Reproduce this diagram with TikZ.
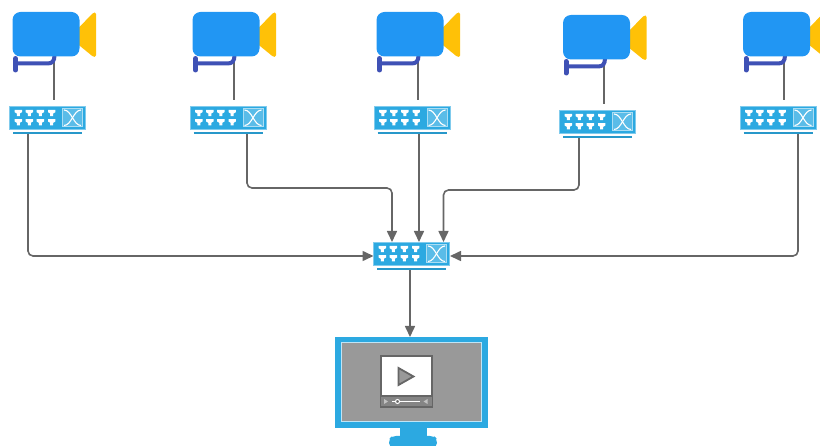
\documentclass[tikz,border=0pt]{standalone}
\usetikzlibrary{arrows.meta}
\definecolor{swblue}{HTML}{2CA9E1}
\definecolor{camblue}{HTML}{2196F3}
\definecolor{camgold}{HTML}{FFC107}
\definecolor{camarm}{HTML}{3F51B5}
\definecolor{wire}{HTML}{666666}
\definecolor{screen}{HTML}{999999}
\tikzset{
  anchorbox/.style={inner sep=0pt,outer sep=0pt,minimum width=#1},
  conn/.style={draw=wire,line width=1.6pt,rounded corners=5pt,-{Triangle[length=11pt,width=10pt]}},
  feed/.style={draw=wire,line width=1.6pt},
  swbody/.style={fill=swblue,draw=swblue!60!white,line width=.5pt},
  funnel/.pic={\fill[white] (-3.7,-3.1) -- (3.7,-3.1) -- (3.7,-.8) -- (1.5,.5) -- (1.5,3.1) -- (-1.5,3.1) -- (-1.5,.5) -- (-3.7,-.8) -- cycle;},
  netswitch/.pic={
    \path[swbody] (0,0) rectangle (76,23);
    \draw[swblue!90!black,line width=2.2pt] (3.5,27) -- (72.5,27);
    \foreach \c in {8.8,19.8,30.8,42.2}\foreach \r in {7,16.3}{\pic at (\c,\r) {funnel};}
    \draw[white!60!swblue,fill=white!22!swblue,line width=1pt] (53,2.5) rectangle (73,21);
    \draw[white,line width=1.1pt] (54.5,4) .. controls (62,4) and (64,19.5) .. (71.5,19.5);
    \draw[white,line width=1.1pt] (54.5,19.5) .. controls (62,19.5) and (64,4) .. (71.5,4);
  },
  camera/.pic={
    \draw[camarm,line width=5pt,line cap=round] (3,46.5) -- (3,58);
    \draw[camarm,line width=4pt] (3,51.5) -- (35,51.5) .. controls (40,51.5) and (42,49) .. (42,43);
    \fill[camgold,rounded corners=1.5pt] (65,17) -- (81,0.5) -- (83.5,0.5) -- (83.5,45) -- (81,45) -- (65,32) -- cycle;
    \fill[camblue,rounded corners=8pt] (0,0) rectangle (67,44.5);
  },
}
\begin{document}
\begin{tikzpicture}[x=1pt,y=-1pt]
\useasboundingbox (0,0) rectangle (820,446);
% anchors
\node[anchorbox=67pt,minimum height=44.5pt] (c1) at (46,34.25) {};
\node[anchorbox=67pt,minimum height=44.5pt] (c2) at (226,34.25) {};
\node[anchorbox=67pt,minimum height=44.5pt] (c3) at (410,34.25) {};
\node[anchorbox=67pt,minimum height=44.5pt] (c4) at (596.5,37.25) {};
\node[anchorbox=67pt,minimum height=44.5pt] (c5) at (776.5,34.25) {};
\node[anchorbox=76pt,minimum height=28pt] (s1) at (47.5,120) {};
\node[anchorbox=76pt,minimum height=28pt] (s2) at (228,120) {};
\node[anchorbox=76pt,minimum height=28pt] (s3) at (412,120) {};
\node[anchorbox=76pt,minimum height=28pt] (s4) at (597.5,124) {};
\node[anchorbox=76pt,minimum height=28pt] (s5) at (778,120) {};
\node[anchorbox=76pt,minimum height=28pt] (hub) at (411.5,256) {};
\node[anchorbox=153pt,minimum height=91pt] (mon) at (411.5,382.5) {};
\coordinate (e1) at (54,100);
\coordinate (e2) at (234,100);
\coordinate (e3) at (418,100);
\coordinate (e4) at (604,104);
\coordinate (e5) at (784,100);
% camera feeds
\draw[feed] ([xshift=41.5pt]c1.south west) -- (e1);
\draw[feed] ([xshift=41.5pt]c2.south west) -- (e2);
\draw[feed] ([xshift=41.5pt]c3.south west) -- (e3);
\draw[feed] ([xshift=41pt]c4.south west) -- (e4);
\draw[feed] ([xshift=41pt]c5.south west) -- (e5);
% connectors
\draw[conn] ([xshift=18.5pt]s1.south west) |- (hub.west);
\draw[conn] ([xshift=20pt]s5.south) |- ([xshift=.5pt]hub.east);
\draw[conn] ([xshift=19pt]s2.south) -- ++(0,54) -| ([xshift=-19.5pt]hub.north);
\draw[conn] ([xshift=7pt]s3.south) -- ([xshift=7.5pt]hub.north);
\draw[conn] ([xshift=-18.5pt]s4.south) -- ++(0,52) -| ([xshift=32pt]hub.north);
\draw[conn] ([xshift=-1.5pt]hub.south) -- ([xshift=-1.5pt]mon.north);
% cameras
\pic at (12.5,12) {camera};
\pic at (192.5,12) {camera};
\pic at (376.5,12) {camera};
\pic at (563,15) {camera};
\pic at (743,12) {camera};
% switches
\pic at (9.5,106) {netswitch};
\pic at (190,106) {netswitch};
\pic at (374,106) {netswitch};
\pic at (559.5,110) {netswitch};
\pic at (740,106) {netswitch};
\pic at (373.5,242) {netswitch};
% monitor
\fill[swblue,rounded corners=4pt] (389,447) -- (389,439) -- (392,436) -- (434,436) -- (437,439) -- (437,447) -- cycle;
\fill[swblue] (400,427) rectangle (427,437);
\fill[swblue] (335,337) rectangle (488,428);
\fill[white!70!swblue] (341,342.5) rectangle (482,422);
\fill[screen] (342,343.5) rectangle (481,421);
\draw[wire,fill=white,line width=2pt] (380.5,356.5) rectangle (431.5,407);
\fill[wire!80!white] (380.5,396) rectangle (431.5,407);
\draw[wire,line width=2pt] (380.5,396) -- (431.5,396);
\draw[wire,line width=2pt] (380.5,407) -- (431.5,407);
\draw[wire,fill=screen,line width=1.8pt,line join=miter] (398.5,368) -- (413.5,376.5) -- (398.5,385) -- cycle;
\draw[white,line width=1pt] (392,401.5) -- (420,401.5);
\fill[screen!60!white] (384,399) -- (388,401.5) -- (384,404) -- cycle;
\fill[screen!60!white] (427.5,399) -- (423.5,401.5) -- (427.5,404) -- cycle;
\draw[white,fill=wire,line width=1pt] (397.5,401.5) circle (2pt);
\end{tikzpicture}
\end{document}
